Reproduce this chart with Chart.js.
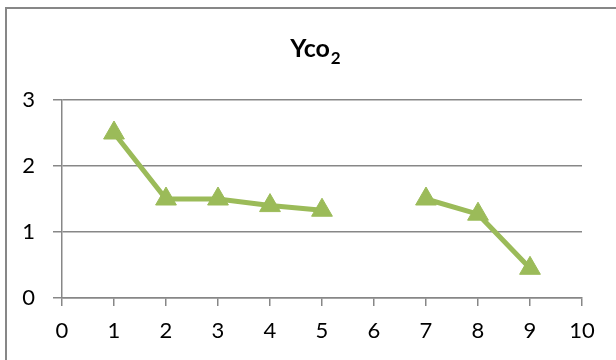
<!DOCTYPE html>
<html>
<head>
<meta charset="utf-8">
<script src="https://cdn.jsdelivr.net/npm/chart.js@4/dist/chart.umd.min.js"></script>
<style>
  html, body { margin: 0; padding: 0; background: #fff; }
  #wrap { width: 616px; height: 360px; position: relative; }
</style>
</head>
<body>
<div id="wrap"><canvas id="c" width="616" height="360"></canvas></div>
<script>
// Sample index and measured Yco2 (no reading at 6)
const xValues = [1, 2, 3, 4, 5, 6, 7, 8, 9];
const ycoValues = [2.5, 1.5, 1.5, 1.4, 1.33, null, 1.5, 1.27, 0.45];
const xTicks = [0, 1, 2, 3, 4, 5, 6, 7, 8, 9, 10];
const yTicks = [0, 1, 2, 3];

const points = xValues.map((x, i) => ({ x: x, y: ycoValues[i] }));

const GRID = '#878787';
const GREEN = '#9BBB59';
const FONT = 'Lato, "Liberation Sans", sans-serif';

// Frame around the chart and the title with its subscript
const decor = {
  id: 'decor',
  beforeDraw(chart) {
    const ctx = chart.ctx;
    ctx.save();
    ctx.fillStyle = '#fff';
    ctx.fillRect(0, 0, chart.width, chart.height);
    ctx.strokeStyle = GRID;
    ctx.lineWidth = 2;
    ctx.strokeRect(6, 8, chart.width + 10, chart.height + 10);
    ctx.restore();
  },
  afterDraw(chart) {
    const ctx = chart.ctx;
    ctx.save();
    ctx.fillStyle = '#000';
    ctx.textBaseline = 'alphabetic';
    const main = 'Yco';
    const sub = '2';
    ctx.font = 'bold 25px ' + FONT;
    const wMain = ctx.measureText(main).width;
    ctx.font = 'bold 17px ' + FONT;
    const wSub = ctx.measureText(sub).width;
    const x0 = 315 - (wMain + wSub) / 2;
    ctx.font = 'bold 25px ' + FONT;
    ctx.fillText(main, x0, 57);
    ctx.font = 'bold 17px ' + FONT;
    ctx.fillText(sub, x0 + wMain + 1, 64);
    ctx.restore();
  }
};

new Chart(document.getElementById('c'), {
  type: 'line',
  data: {
    datasets: [{
      label: 'Yco2',
      data: points,
      borderColor: GREEN,
      backgroundColor: GREEN,
      borderWidth: 5,
      pointStyle: 'triangle',
      pointRadius: 12,
      pointHoverRadius: 12,
      pointBorderWidth: 1,
      pointBorderColor: GREEN,
      pointBackgroundColor: GREEN,
      spanGaps: false,
      tension: 0
    }]
  },
  options: {
    responsive: false,
    animation: false,
    events: [],
    layout: { padding: { left: 0, top: 100, right: 34, bottom: 0 } },
    plugins: {
      legend: { display: false },
      title: { display: false },
      tooltip: { enabled: false }
    },
    scales: {
      x: {
        type: 'linear',
        min: 0,
        max: 10,
        afterFit(scale) { scale.height = 62; },
        afterBuildTicks(scale) { scale.ticks = xTicks.map(v => ({ value: v })); },
        grid: {
          drawOnChartArea: false,
          drawTicks: true,
          tickLength: 8,
          color: GRID,
          lineWidth: 1.5
        },
        border: { color: GRID, width: 1.5 },
        ticks: {
          color: '#000',
          font: { family: FONT, size: 22 },
          padding: 12,
          maxRotation: 0
        }
      },
      y: {
        min: 0,
        max: 3,
        afterFit(scale) { scale.width = 62; },
        afterBuildTicks(scale) { scale.ticks = yTicks.map(v => ({ value: v })); },
        grid: {
          drawOnChartArea: true,
          drawTicks: true,
          tickLength: 9,
          color: GRID,
          lineWidth: 1.5
        },
        border: { color: GRID, width: 1.5 },
        ticks: {
          color: '#000',
          font: { family: FONT, size: 22 },
          padding: 18
        }
      }
    }
  },
  plugins: [decor]
});
</script>
</body>
</html>
